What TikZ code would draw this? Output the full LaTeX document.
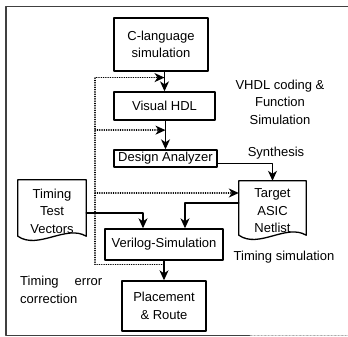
\documentclass[tikz,border=0pt]{standalone}
\usepackage{fontspec}
\setmainfont{Liberation Sans}
\usetikzlibrary{arrows.meta,calc}
% outline of a document symbol round a node
\newcommand{\docframe}[1]{%
  \draw[line width=1.3pt] (#1.north west) -- (#1.north east) -- ($(#1.south east)+(0,-6)$)
    .. controls ($(#1.south east)+(-20,-18)$) and ($(#1.south west)+(20,8)$) .. ($(#1.south west)+(0,-6)$) -- cycle;}
\begin{document}
\begin{tikzpicture}[x=1pt,y=-1pt,line cap=round,line join=round,
  every node/.style={font=\fontsize{13}{17.5}\selectfont},
  box/.style={draw,line width=1.4pt,align=center,inner sep=0pt},
  doc/.style={align=center,inner sep=0pt,minimum width=68,minimum height=62},
  lbl/.style={align=center,inner sep=0pt},
  arr/.style={line width=1.2pt,-{Stealth[length=10pt,width=9pt,inset=3pt]}},
  fb/.style={line width=1.3pt,dash pattern=on 0.3pt off 2pt,-{Stealth[length=10pt,width=9pt,inset=3pt]}}]
\useasboundingbox (0,0) rectangle (348,337);
\draw[line width=1.4pt,black!75] (348,6.5) -- (6,6.5) -- (6,335.5) -- (250,335.5);
\draw[black!40,densely dotted] (250,335.5) -- (348,335.5);

\node[box,minimum width=94,minimum height=53] (cl) at (161,44.5) {C-language\\simulation};
\node[box,minimum width=101,minimum height=28] (vh) at (164.5,106) {Visual HDL};
\node[box,minimum width=103,minimum height=17] (da) at (165.5,158.5) {Design Analyzer};
\node[box,minimum width=118,minimum height=31] (vs) at (164,244.5) {Verilog-Simulation};
\node[box,minimum width=84,minimum height=50] (pr) at (164,306) {Placement\\\& Route};
\node[doc] (ttv) at (52,211) {Timing\\Test\\Vectors};
\node[doc,minimum width=67,minimum height=60] (tan) at (272.5,211) {Target\\ASIC\\Netlist};
\docframe{ttv}
\docframe{tan}

\node[lbl] (vhdl) at (280,102) {VHDL coding \&\\Function\\Simulation};
\node[lbl] (syn) at (276,153) {Synthesis};
\node[lbl] (tsim) at (284,257) {Timing simulation};
\node[lbl,align=left,anchor=west] (tec) at (20,290) {Timing\hspace{16pt}error\\correction};

% main flow
\draw[arr] (cl.south -| vh.north) -- (vh.north);
\draw[arr] (vh.south -| da.north) -- (da.north);
\draw[arr] ([yshift=-5pt]da.east) -| (tan.north);
\draw[arr] ([yshift=8pt]tan.west) -| ([xshift=21pt]vs.north);
\draw[arr] ([yshift=-2pt]ttv.east) -| ([xshift=-21pt]vs.north);
\draw[arr] (vs.south) -- (vs.south |- pr.north);

% timing error feedback
\coordinate (fb) at ($(vs.south)!0.2!(pr.north)$);
\coordinate (j1) at ($(cl.south -| vh.north)!0.3!(vh.north)$);
\coordinate (j2) at ($(vh.south -| da.north)!0.33!(da.north)$);
\coordinate (tanin) at ([yshift=18pt]tan.west);
\coordinate (lft) at (95,0);
\draw[fb] (fb) -| (lft |- j1) -- (j1);
\draw[fb] (lft |- j2) -- (j2);
\draw[fb] (lft |- tanin) -- (tanin);
\end{tikzpicture}
\end{document}
